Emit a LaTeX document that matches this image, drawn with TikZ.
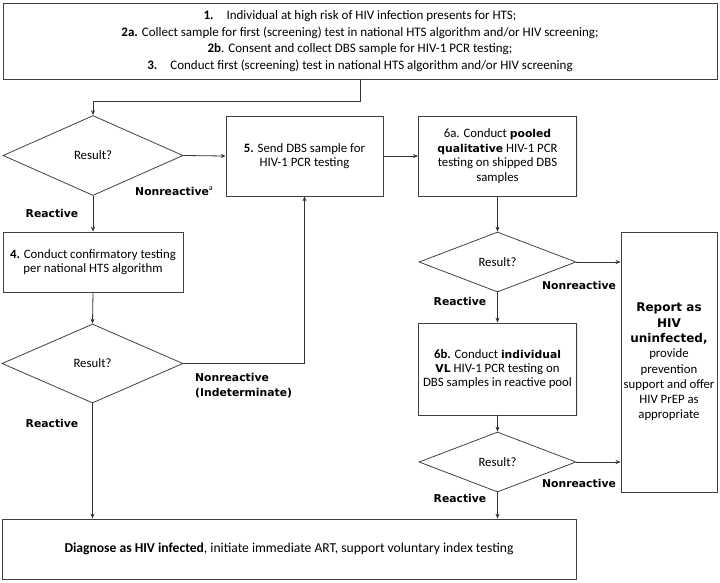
\documentclass[tikz,border=0pt]{standalone}
\usepackage{fontspec}
\setmainfont{Carlito}
\newfontfamily\heavyfont{DejaVu Sans}
\usetikzlibrary{shapes.geometric,arrows.meta,shadows}
\newcommand\hv[1]{{\heavyfont\bfseries\fontsize{10.8}{14.5}\selectfont #1}}
\newcommand\hvb[1]{{\heavyfont\bfseries\fontsize{12}{15.3}\selectfont #1}}
\tikzset{
  box/.style={draw=black!75, fill=white, line width=0.8pt, inner sep=0pt, align=center, font=\fontsize{12.8}{14.4}\selectfont,
    drop shadow={opacity=0.18, shadow xshift=1pt, shadow yshift=-1pt}},
  dia/.style={draw=black!75, line width=0.8pt, shape=diamond, inner sep=0pt, font=\fontsize{12.8}{14}\selectfont},
  lab/.style={inner sep=0pt, font=\heavyfont\bfseries\fontsize{10.8}{15}\selectfont, align=left},
  arr/.style={draw=black!80, line width=0.8pt, -{Stealth[length=5pt,width=4pt]}},
}
\begin{document}
\begin{tikzpicture}[x=1pt,y=-1pt]
\useasboundingbox (0,0) rectangle (720,582);
\node[box, minimum width=714, minimum height=76, font=\fontsize{13}{16.5}\selectfont] (top) at (360,41)
 {\textbf{1.}\quad Individual at high risk of HIV infection presents for HTS;\\
  \textbf{2a.} Collect sample for first (screening) test in national HTS algorithm and/or HIV screening;\\
  \textbf{2b}. Consent and collect DBS sample for HIV-1 PCR testing;\\
  \textbf{3.}\quad Conduct first (screening) test in national HTS algorithm and/or HIV screening};
\node[dia, minimum width=180, minimum height=80] (d1) at (93,155.5) {Result?};
\node[box, minimum width=157, minimum height=80] (b5) at (304.5,156) {\textbf{5.} Send DBS sample for\\HIV-1 PCR testing};
\node[box, minimum width=180, minimum height=60] (b4) at (93,262) {\textbf{4.} Conduct confirmatory testing\\per national HTS algorithm};
\node[dia, minimum width=181, minimum height=79] (d2) at (92.5,363.5) {Result?};
\node[box, minimum width=158, minimum height=80] (b6a) at (497.5,156) {6a. Conduct \hv{pooled}\\\hv{qualitative} HIV-1 PCR\\testing on shipped DBS\\samples};
\node[dia, minimum width=157, minimum height=60] (d3) at (497.5,262) {Result?};
\node[box, minimum width=158, minimum height=92] (b6b) at (497.5,369) {\textbf{6b.} Conduct \hv{individual}\\\hv{VL} HIV-1 PCR testing on\\DBS samples in reactive pool};
\node[dia, minimum width=157, minimum height=60] (d4) at (497.5,462) {Result?};
\node[box, minimum width=96, minimum height=260, font=\fontsize{12.8}{15.3}\selectfont] (rep) at (669,362)
 {\hvb{Report as}\\\hvb{HIV}\\\hvb{uninfected,}\\provide\\prevention\\support and offer\\HIV PrEP as\\appropriate};
\node[box, minimum width=574, minimum height=60, font=\fontsize{13.6}{16}\selectfont] (diag) at (289,549)
 {\textbf{Diagnose as HIV infected}, initiate immediate ART, support voluntary index testing};
% connectors
\coordinate (c1) at (360,101);
\draw[arr] (top.south -| c1) -- (c1) -| (d1.north);
\draw[arr] (d1.east) -- (b5.west);
\draw[arr] (d1.south) -- (b4.north);
\draw[arr] (b4.south) -- (d2.north);
\draw[arr] (d2.east) -| (b5.south);
\draw[arr] (d2.south) -- (diag.north -| d2.south);
\draw[arr] (b5.east) -- (b6a.west);
\draw[arr] (b6a.south) -- (d3.north);
\draw[arr] (d3.east) -- (rep.west |- d3.east);
\draw[arr] (d3.south) -- (b6b.north);
\draw[arr] (b6b.south) -- (d4.north);
\draw[arr] (d4.east) -- (rep.west |- d4.east);
\draw[arr] (d4.south) -- (diag.north -| d4.south);
% labels
\node[lab] (l1) at (174,191) {Nonreactive\raisebox{5pt}{\normalfont\rmfamily\fontsize{8}{8}\selectfont a}};
\node[lab] (l2) at (52,213) {Reactive};
\node[lab, anchor=west] (l3) at (195,385.5) {Nonreactive\\(Indeterminate)};
\node[lab] (l4) at (52,423) {Reactive};
\node[lab] (l5) at (579,285) {Nonreactive};
\node[lab] (l6) at (460,301) {Reactive};
\node[lab] (l7) at (579,483) {Nonreactive};
\node[lab] (l8) at (460,498) {Reactive};
\end{tikzpicture}
\end{document}
